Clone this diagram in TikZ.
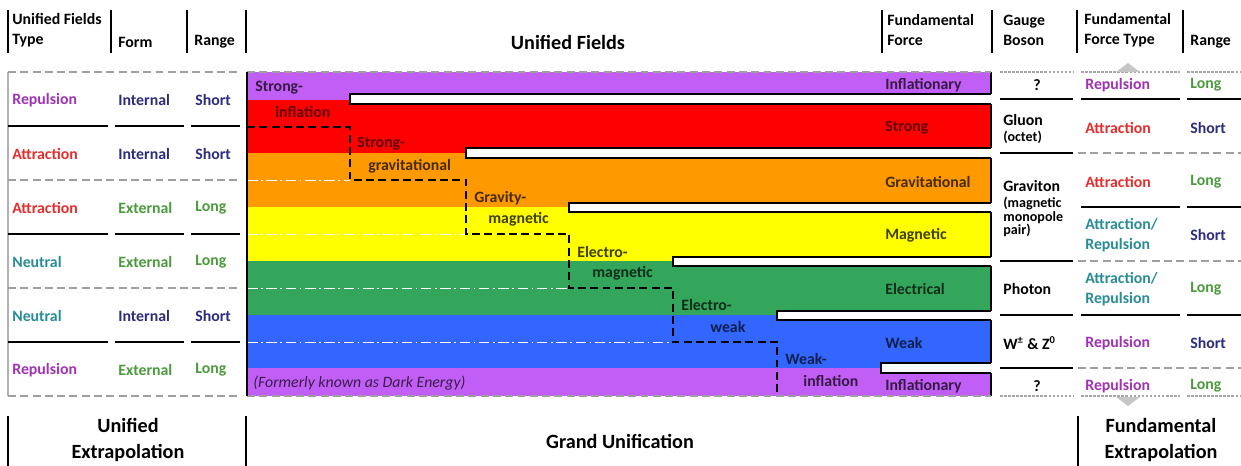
\documentclass[tikz,border=0pt]{standalone}
\usepackage{fontspec}
\setmainfont{Carlito}
\definecolor{cPur}{RGB}{193,94,245}
\definecolor{cRed}{RGB}{255,0,0}
\definecolor{cOra}{RGB}{255,153,0}
\definecolor{cYel}{RGB}{255,255,0}
\definecolor{cGrn}{RGB}{51,166,92}
\definecolor{cBlu}{RGB}{51,102,255}
\definecolor{tPur}{RGB}{160,50,180}
\definecolor{tRed}{RGB}{228,45,45}
\definecolor{tNav}{RGB}{45,45,125}
\definecolor{tGrn}{RGB}{75,155,60}
\definecolor{tTea}{RGB}{40,140,150}
\begin{document}
\begin{tikzpicture}[x=0.02cm,y=-0.02cm,
  txt/.style={font=\bfseries\fontsize{9}{11.4}\selectfont, inner sep=0pt, align=left},
  lft/.style={txt, anchor=west},
  sml/.style={font=\bfseries\fontsize{8}{7.7}\selectfont, inner sep=0pt, align=left, anchor=west},
  big/.style={font=\bfseries\fontsize{11.5}{15}\selectfont, inner sep=0pt, align=center},
  vbar/.style={black, line width=1.4pt},
  rule/.style={black, line width=1.4pt},
  gdash/.style={gray!75, line width=1.2pt, dash pattern=on 4.5pt off 2.5pt},
  gthin/.style={gray!70, line width=0.6pt, dash pattern=on 1.5pt off 0.8pt},
  stair/.style={black, line width=1.4pt, dash pattern=on 4.5pt off 2.5pt},
  wdd/.style={white, line width=0.5pt, dash pattern=on 6pt off 2pt on 1pt off 2pt},
  boxline/.style={black, line width=1.3pt},
  bandlbl/.style={txt, anchor=west}
]
\useasboundingbox (0,0) rectangle (1241,466);

% ---------- header ----------
\foreach \x in {8,111,187,246,882,992,1077,1183} \draw[vbar] (\x,10) -- (\x,53);
\node[lft] (h1) at (12,30) {Unified Fields\\Type};
\node[lft] (h2) at (118,42) {Form};
\node[lft] (h3) at (194,42) {Range};
\node[big] (h4) at (568,42) {Unified Fields};
\node[lft] (h5) at (887,30) {Fundamental\\Force};
\node[lft] (h6) at (1003,30) {Gauge\\Boson};
\node[lft] (h7) at (1084,30) {Fundamental\\Force Type};
\node[lft] (h8) at (1190,42) {Range};

% ---------- colour bands ----------
\fill[cPur] (247,72) rectangle (991,100);
\fill[cRed] (247,100) rectangle (991,153);
\fill[cOra] (247,153) rectangle (991,207);
\fill[cYel] (247,207) rectangle (991,261);
\fill[cGrn] (247,261) rectangle (991,315);
\fill[cBlu] (247,315) rectangle (991,368);
\fill[cPur] (247,368) rectangle (991,396);

\draw[wdd] (247,180) -- (350,180);
\draw[wdd] (247,234) -- (466,234);
\draw[wdd] (247,288) -- (569,288);
\draw[wdd] (247,342) -- (673,342);

\draw[boxline] (991,72) -- (991,396);
\foreach \x/\a/\b in {350/94/104,466/148/158,569/203/212,673/257/266,777/311/320,881/363/373}{
  \fill[white] (\x,\a) rectangle (1000,\b);
  \draw[boxline] (991,\a) -- (\x,\a) -- (\x,\b) -- (991,\b);
}
\draw[gdash] (247,72) -- (991,72);
\draw[gdash] (247,396) -- (991,396);
\draw[boxline] (247,72) -- (247,396);

\draw[stair] (247,127) -- (350,127) -- (350,180) -- (466,180) -- (466,234) -- (569,234)
  -- (569,288) -- (673,288) -- (673,342) -- (777,342) -- (777,396);

% band labels
\node[bandlbl, text=cPur!28!black] (b1a) at (255,88) {Strong-};
\node[bandlbl, text=cRed!38!black] (b1b) at (275,112) {inflation};
\node[bandlbl, text=cRed!38!black] (b2a) at (357,144) {Strong-};
\node[bandlbl, text=cOra!28!black] (b2b) at (368,166) {gravitational};
\node[bandlbl, text=cOra!28!black] (b3a) at (474,198) {Gravity-};
\node[bandlbl, text=cYel!25!black] (b3b) at (488,219) {magnetic};
\node[bandlbl, text=cYel!25!black] (b4a) at (577,252) {Electro-};
\node[bandlbl, text=cGrn!28!black] (b4b) at (592,273) {magnetic};
\node[bandlbl, text=cGrn!28!black] (b5a) at (681,305) {Electro-};
\node[bandlbl, text=cBlu!30!black] (b5b) at (710,327) {weak};
\node[bandlbl, text=cBlu!30!black] (b6a) at (785,359) {Weak-};
\node[bandlbl, text=cPur!28!black] (b6b) at (803,381) {inflation};
\node[anchor=west, inner sep=0pt, font=\itshape\fontsize{9}{11}\selectfont, text=cPur!30!black] (de) at (253,383) {(Formerly known as Dark Energy)};

\node[bandlbl, text=cPur!28!black] (f1) at (885,85) {Inflationary};
\node[bandlbl, text=cRed!38!black] (f2) at (885,128) {Strong};
\node[bandlbl, text=cOra!28!black] (f3) at (885,182) {Gravitational};
\node[bandlbl, text=cYel!25!black] (f4) at (885,235) {Magnetic};
\node[bandlbl, text=cGrn!28!black] (f5) at (885,289) {Electrical};
\node[bandlbl, text=cBlu!30!black] (f6) at (885,343) {Weak};
\node[bandlbl, text=cPur!28!black] (f7) at (885,386) {Inflationary};

% ---------- left table ----------
\draw[gray!60, line width=0.6pt] (8,72) -- (8,396);
\foreach \y in {72,180,288,396} \draw[gdash] (8,\y) -- (240,\y);
\foreach \y in {126,234,342}{
  \draw[rule] (8,\y) -- (108,\y);
  \draw[rule] (115,\y) -- (184,\y);
  \draw[rule] (191,\y) -- (240,\y);
}
\node[lft, text=tPur] (l1a) at (12,100) {Repulsion};
\node[lft, text=tNav] (l1b) at (118,100) {Internal};
\node[lft, text=tNav] (l1c) at (195,100) {Short};
\node[lft, text=tRed] (l2a) at (12,154) {Attraction};
\node[lft, text=tNav] (l2b) at (118,154) {Internal};
\node[lft, text=tNav] (l2c) at (195,154) {Short};
\node[lft, text=tRed] (l3a) at (12,208) {Attraction};
\node[lft, text=tGrn] (l3b) at (118,208) {External};
\node[lft, text=tGrn] (l3c) at (195,208) {Long};
\node[lft, text=tTea] (l4a) at (12,262) {Neutral};
\node[lft, text=tGrn] (l4b) at (118,262) {External};
\node[lft, text=tGrn] (l4c) at (195,262) {Long};
\node[lft, text=tTea] (l5a) at (12,316) {Neutral};
\node[lft, text=tNav] (l5b) at (118,316) {Internal};
\node[lft, text=tNav] (l5c) at (195,316) {Short};
\node[lft, text=tPur] (l6a) at (12,370) {Repulsion};
\node[lft, text=tGrn] (l6b) at (118,370) {External};
\node[lft, text=tGrn] (l6c) at (195,370) {Long};

% ---------- right table ----------
\foreach \y in {72,396}{
  \draw[gthin] (1000,\y) -- (1073,\y);
  \draw[gthin] (1081,\y) -- (1180,\y);
  \draw[gthin] (1187,\y) -- (1241,\y);
}
\foreach \y in {99,315}{
  \draw[rule] (1000,\y) -- (1073,\y);
  \draw[rule] (1081,\y) -- (1180,\y);
  \draw[rule] (1187,\y) -- (1241,\y);
}
\foreach \y in {153,261,368}{
  \draw[rule] (1000,\y) -- (1073,\y);
  \draw[gdash] (1078,\y) -- (1241,\y);
}
\draw[rule] (1081,207) -- (1180,207);
\draw[rule] (1187,207) -- (1241,207);

\fill[gray!45] (1116,72) -- (1128,63) -- (1140,72) -- cycle;
\fill[gray!45] (1116,397) -- (1128,406) -- (1140,397) -- cycle;

\node[txt] (g1) at (1037,85) {?};
\node[lft] (g2a) at (1003,120) {Gluon};
\node[sml] (g2b) at (1003,137) {(octet)};
\node[lft] (g3a) at (1003,186) {Graviton};
\node[sml] (g3b) at (1003,217) {(magnetic\\monopole\\pair)};
\node[lft] (g5) at (1003,289) {Photon};
\node[lft] (g6) at (1003,343) {W\textsuperscript{±} \& Z\textsuperscript{0}};
\node[txt] (g7) at (1037,386) {?};

\node[lft, text=tPur] (r1a) at (1085,85) {Repulsion};
\node[lft, text=tGrn] (r1b) at (1190,85) {Long};
\node[lft, text=tRed] (r2a) at (1085,128) {Attraction};
\node[lft, text=tNav] (r2b) at (1190,128) {Short};
\node[lft, text=tRed] (r3a) at (1085,182) {Attraction};
\node[lft, text=tGrn] (r3b) at (1190,182) {Long};
\node[lft, text=tTea] (r4a) at (1085,235) {Attraction/\\Repulsion};
\node[lft, text=tNav] (r4b) at (1190,235) {Short};
\node[lft, text=tTea] (r5a) at (1085,289) {Attraction/\\Repulsion};
\node[lft, text=tGrn] (r5b) at (1190,289) {Long};
\node[lft, text=tPur] (r6a) at (1085,343) {Repulsion};
\node[lft, text=tNav] (r6b) at (1190,343) {Short};
\node[lft, text=tPur] (r7a) at (1085,386) {Repulsion};
\node[lft, text=tGrn] (r7b) at (1190,386) {Long};

% ---------- footer ----------
\foreach \x in {8,246,1078} \draw[vbar] (\x,416) -- (\x,466);
\node[big] (ft1) at (128,440) {Unified\\Extrapolation};
\node[big] (ft2) at (620,441) {Grand Unification};
\node[big] (ft3) at (1161,440) {Fundamental\\Extrapolation};
\end{tikzpicture}
\end{document}
